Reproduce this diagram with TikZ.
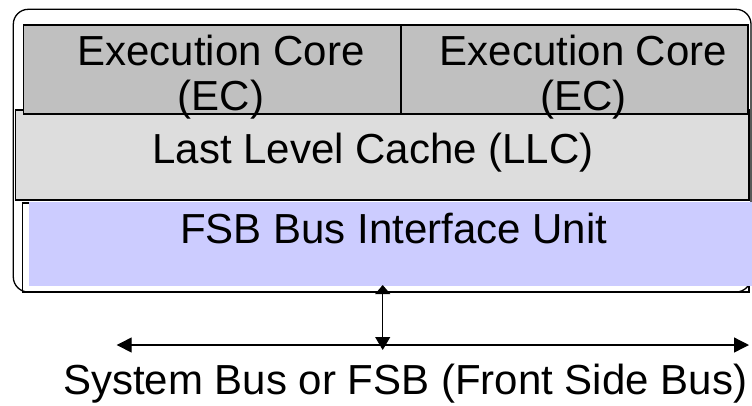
\documentclass[tikz,border=0pt]{standalone}
\usepackage{fontspec}
\setmainfont{Liberation Sans}
\usetikzlibrary{arrows.meta}
\definecolor{coregray}{HTML}{C0C0C0}
\definecolor{cachegray}{HTML}{DDDDDD}
\definecolor{biublue}{HTML}{CCCCFF}

\begin{document}
\begin{tikzpicture}[x=1bp,y=-1bp,
  blk/.style={draw=black, line width=1.2bp, inner sep=0pt, outer sep=0pt, anchor=north west},
  lbl/.style={font=\fontsize{42bp}{45bp}\selectfont, inner sep=0pt, anchor=base},
  tipbig/.tip={Triangle[length=15bp,width=15bp]},
]
\useasboundingbox (0,0) rectangle (752,405);

% processor package outline
\draw[line width=1.3bp, rounded corners=15bp] (13.3,9.3) rectangle (751,292);

% last level cache
\node[blk, fill=cachegray, minimum width=733.7bp, minimum height=90bp] (llc) at (15.3,110) {};

% two execution cores
\node[blk, fill=coregray, minimum width=377.7bp, minimum height=89bp] (ec1) at (23.3,25) {};
\node[blk, fill=coregray, minimum width=347bp, minimum height=89bp] (ec2) at (401,25) {};

% bus interface unit frame and body
\draw[line width=1.2bp] (22.7,203) rectangle (749,292);
\node[fill=biublue, draw=none, inner sep=0pt, outer sep=0pt, anchor=north west,
      minimum width=723bp, minimum height=84.5bp] (biu) at (29,201.5) {};

% labels
\node[lbl] (ec1a) at (221,65) {Execution Core};
\node[lbl] (ec1b) at (221,110) {(EC)};
\node[lbl] (ec2a) at (583.5,65) {Execution Core};
\node[lbl] (ec2b) at (583.5,110) {(EC)};
\node[lbl] (llct) at (373,163) {Last Level Cache (LLC)};
\node[lbl] (biut) at (393.7,243) {FSB Bus Interface Unit};
\node[lbl, anchor=base west] (bust) at (63,394) {System Bus or FSB (Front Side Bus)};

% system bus and its tap to the interface unit
\coordinate (busL) at (116.7,345);
\coordinate (busR) at (749,345);
\coordinate (biuTap) at (382.7,285);
\coordinate (busTap) at (382.7,350);
\draw[line width=1.3bp, {tipbig}-{tipbig}] (busL) -- (busR);
\draw[line width=1bp, {Triangle[length=9bp,width=15bp]}-{Triangle[length=13bp,width=15bp]}] (biuTap) -- (busTap);
\end{tikzpicture}
\end{document}
